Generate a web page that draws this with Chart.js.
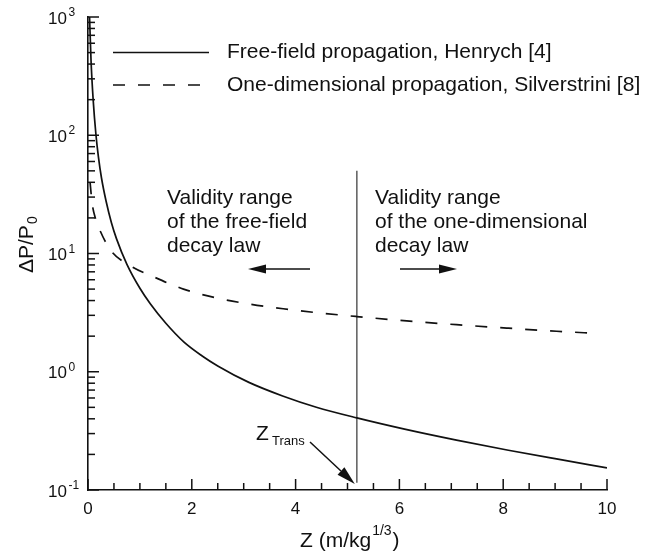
<!DOCTYPE html>
<html>
<head>
<meta charset="utf-8">
<script src="https://cdn.jsdelivr.net/npm/chart.js@4.4.0/dist/chart.umd.min.js"></script>
<style>
  html, body { margin: 0; padding: 0; background: #fff; }
  #wrap { width: 662px; height: 554px; }
</style>
</head>
<body>
<div id="wrap"><canvas id="chartDecay" width="662" height="554"></canvas></div>
<script>
// Free-field propagation (Henrych [4]) : scaled distance Z and dP/P0
var zFree = [0.03, 0.058, 0.10, 0.154, 0.2, 0.26, 0.35, 0.45, 0.55, 0.75, 1.0, 1.2, 1.5, 1.85, 2.2, 2.5, 3.1, 3.75, 4.4, 5.18, 6.1, 7.1, 8.1, 9.0, 10.0];
var pFree = [1000, 433, 198, 100, 66, 43.5, 27.5, 18.3, 13.3, 8.1, 5.08, 3.76, 2.57, 1.78, 1.36, 1.12, 0.813, 0.624, 0.501, 0.407, 0.327, 0.264, 0.217, 0.184, 0.154];

// One-dimensional propagation (Silverstrini [8])
var zOneDim = [0.04, 0.08, 0.15, 0.23, 0.44, 0.83, 1.23, 1.84, 2.48, 3.12, 3.76, 4.41, 5.18, 6.14, 7.1, 8.07, 9.03, 9.8];
var pOneDim = [40, 26.5, 19.4, 15.7, 10.6, 7.8, 6.45, 5.0, 4.2, 3.73, 3.41, 3.16, 2.93, 2.69, 2.5, 2.34, 2.2, 2.11];

// transition distance Z_Trans (vertical marker)
var zTrans = [5.18, 5.18];
var pTrans = [50, 0.115];

// axis ticks
var xTickValues = [0, 2, 4, 6, 8, 10];
var xTickLabels = ['0', '2', '4', '6', '8', '10'];
var yDecades = [1000, 100, 10, 1, 0.1];
var yExponents = ['3', '2', '1', '0', '-1'];

var FONT = '"Liberation Sans", Arial, Helvetica, sans-serif';
var ink = '#111';

function toPoints(xs, ys) {
  var pts = [];
  for (var i = 0; i < xs.length; i++) pts.push({ x: xs[i], y: ys[i] });
  return pts;
}

function arrow(ctx, x1, y1, x2, y2, len, half) {
  var a = Math.atan2(y2 - y1, x2 - x1);
  var bx = x2 - len * Math.cos(a), by = y2 - len * Math.sin(a);
  ctx.beginPath();
  ctx.moveTo(x1, y1);
  ctx.lineTo(bx, by);
  ctx.stroke();
  ctx.beginPath();
  ctx.moveTo(x2, y2);
  ctx.lineTo(bx + half * Math.sin(a), by - half * Math.cos(a));
  ctx.lineTo(bx - half * Math.sin(a), by + half * Math.cos(a));
  ctx.closePath();
  ctx.fill();
}

var decor = {
  id: 'decor',
  afterDraw: function (chart) {
    var ctx = chart.ctx;
    var xs = chart.scales.x, ys = chart.scales.y;
    var area = chart.chartArea;
    ctx.save();
    ctx.strokeStyle = ink;
    ctx.fillStyle = ink;
    ctx.lineWidth = 1.5;

    // inward ticks, x
    xs.ticks.forEach(function (t) {
      var px = xs.getPixelForValue(t.value);
      var major = xTickValues.indexOf(t.value) >= 0;
      ctx.beginPath();
      ctx.moveTo(px, area.bottom);
      ctx.lineTo(px, area.bottom - (major ? 11 : 7));
      ctx.stroke();
    });
    // inward ticks, y
    ys.ticks.forEach(function (t) {
      var py = ys.getPixelForValue(t.value);
      var major = yDecades.indexOf(t.value) >= 0;
      ctx.beginPath();
      ctx.moveTo(area.left, py);
      ctx.lineTo(area.left + (major ? 11 : 7), py);
      ctx.stroke();
    });

    // x tick labels
    ctx.font = '17px ' + FONT;
    ctx.textAlign = 'center';
    ctx.textBaseline = 'middle';
    xTickValues.forEach(function (v, i) {
      ctx.fillText(xTickLabels[i], xs.getPixelForValue(v), area.bottom + 19);
    });
    // y tick labels 10^n
    yDecades.forEach(function (v, i) {
      var py = ys.getPixelForValue(v);
      ctx.font = '17px ' + FONT;
      ctx.textAlign = 'left';
      ctx.textBaseline = 'middle';
      ctx.fillText('10', 48, py + 2);
      ctx.font = '12px ' + FONT;
      ctx.textBaseline = 'alphabetic';
      ctx.fillText(yExponents[i], 68.5, py - 1);
    });

    // x title: Z (m/kg^1/3)
    ctx.textAlign = 'left';
    ctx.textBaseline = 'alphabetic';
    ctx.font = '21px ' + FONT;
    var t1 = 'Z (m/kg';
    var x0 = 300;
    ctx.fillText(t1, x0, 547);
    var w1 = ctx.measureText(t1).width;
    ctx.font = '14px ' + FONT;
    ctx.fillText('1/3', x0 + w1 + 1, 535);
    var w2 = ctx.measureText('1/3').width;
    ctx.font = '21px ' + FONT;
    ctx.fillText(')', x0 + w1 + w2 + 2, 547);

    // y title: dP/P0
    ctx.save();
    ctx.translate(33, 273);
    ctx.rotate(-Math.PI / 2);
    ctx.font = '21px ' + FONT;
    ctx.fillText('\u0394P/P', 0, 0);
    var w3 = ctx.measureText('\u0394P/P').width;
    ctx.font = '14px ' + FONT;
    ctx.fillText('0', w3 + 1, 4);
    ctx.restore();

    // legend
    chart.data.datasets.slice(0, 2).forEach(function (ds, i) {
      var ly = [52.5, 85][i];
      ctx.save();
      ctx.lineWidth = ds.borderWidth;
      ctx.strokeStyle = ds.borderColor;
      ctx.setLineDash(ds.borderDash || []);
      ctx.beginPath();
      ctx.moveTo(113, ly);
      ctx.lineTo(i === 0 ? 209 : 200, ly);
      ctx.stroke();
      ctx.restore();
      ctx.font = '21px ' + FONT;
      ctx.textBaseline = 'middle';
      ctx.fillText(ds.label, 227, ly);
    });

    // validity range notes
    ctx.textBaseline = 'alphabetic';
    ctx.font = '21px ' + FONT;
    var leftNote = ['Validity range', 'of the free-field', 'decay law'];
    var rightNote = ['Validity range', 'of the one-dimensional', 'decay law'];
    [204, 228, 252].forEach(function (by, i) {
      ctx.fillText(leftNote[i], 167, by);
      ctx.fillText(rightNote[i], 375, by);
    });

    // arrows
    ctx.lineWidth = 1.5;
    arrow(ctx, 310, 269, 248, 269, 18, 4.5);
    arrow(ctx, 400, 269, 457, 269, 18, 4.5);
    var tipX = xs.getPixelForValue(zTrans[0]) - 2;
    arrow(ctx, 310, 442, tipX, 484, 19, 5);

    // Z_Trans label
    ctx.font = '21px ' + FONT;
    ctx.fillText('Z', 256, 440);
    ctx.font = '13px ' + FONT;
    ctx.fillText('Trans', 272, 445);

    ctx.restore();
  }
};

var ctx = document.getElementById('chartDecay');
var chartDecay = new Chart(ctx, {
  type: 'line',
  data: {
    datasets: [
      {
        label: 'Free-field propagation, Henrych [4]',
        data: toPoints(zFree, pFree),
        borderColor: ink,
        borderWidth: 1.7,
        pointRadius: 0,
        cubicInterpolationMode: 'monotone',
        fill: false
      },
      {
        label: 'One-dimensional propagation, Silverstrini [8]',
        data: toPoints(zOneDim, pOneDim),
        borderColor: ink,
        borderWidth: 1.7,
        borderDash: [12, 13],
        pointRadius: 0,
        cubicInterpolationMode: 'monotone',
        fill: false
      },
      {
        label: 'Z_Trans',
        data: toPoints(zTrans, pTrans),
        borderColor: '#5c5c5c',
        borderWidth: 1.5,
        pointRadius: 0,
        fill: false
      }
    ]
  },
  options: {
    responsive: false,
    animation: false,
    devicePixelRatio: 1,
    layout: { padding: { top: 17, right: 55, left: 0, bottom: 0 } },
    plugins: {
      legend: { display: false },
      tooltip: { enabled: false }
    },
    scales: {
      x: {
        type: 'linear',
        min: 0,
        max: 10,
        ticks: { display: false },
        grid: { display: false },
        border: { display: true, color: ink, width: 1.6 },
        afterBuildTicks: function (s) {
          var t = [];
          for (var v = 0; v <= 10; v += 0.5) t.push({ value: v });
          s.ticks = t;
        },
        afterFit: function (s) { s.height = 64; }
      },
      y: {
        type: 'logarithmic',
        min: 0.1,
        max: 1000,
        ticks: { display: false },
        grid: { display: false },
        border: { display: true, color: ink, width: 1.6 },
        afterBuildTicks: function (s) {
          var t = [];
          [0.1, 1, 10, 100].forEach(function (d) {
            for (var k = 1; k < 10; k++) t.push({ value: +(d * k).toPrecision(3) });
          });
          t.push({ value: 1000 });
          s.ticks = t;
        },
        afterFit: function (s) { s.width = 88; }
      }
    }
  },
  plugins: [decor]
});
</script>
</body>
</html>
